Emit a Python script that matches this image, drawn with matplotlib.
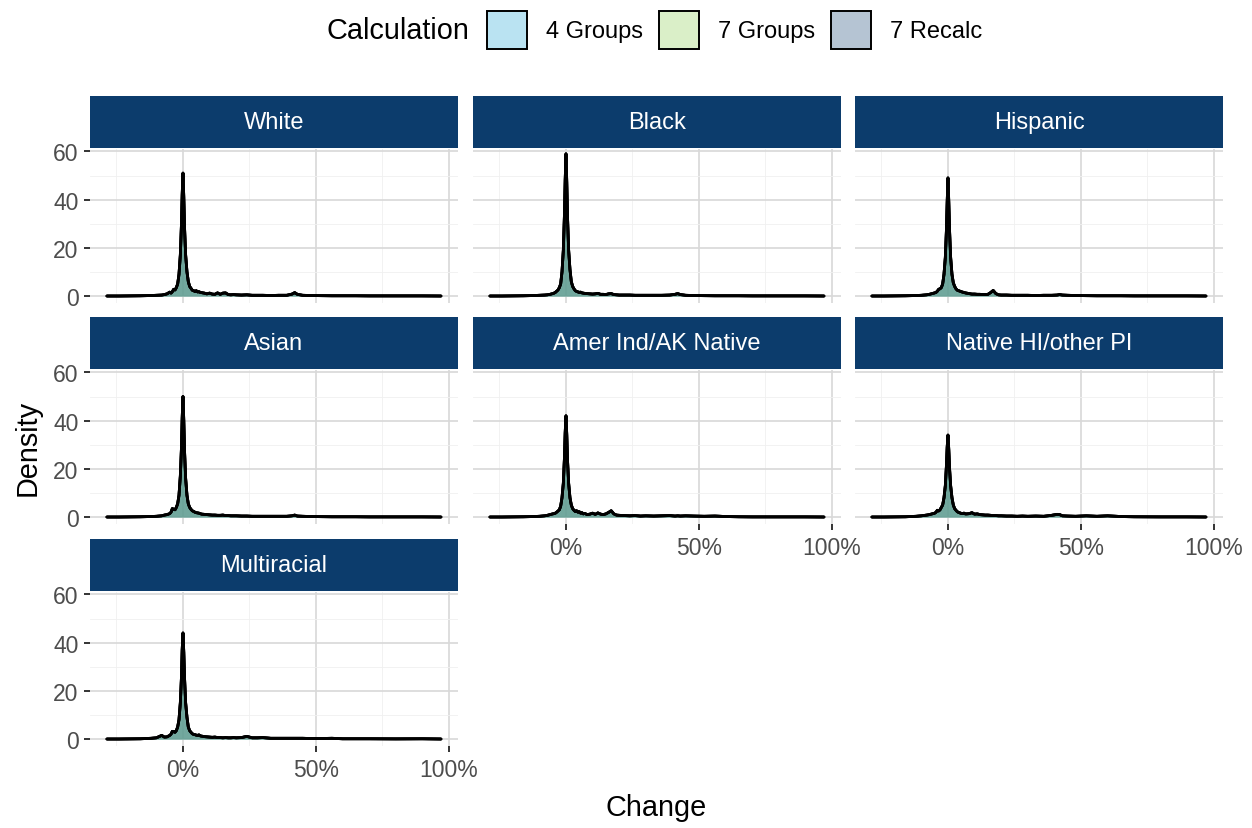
import matplotlib
matplotlib.use('Agg')
import matplotlib.pyplot as plt
from matplotlib.patches import Patch
from matplotlib.ticker import FuncFormatter, FixedLocator

plt.rcParams['font.family'] = ['Liberation Sans', 'DejaVu Sans']

# ---------------- data ----------------
calculations = ['4 Groups', '7 Groups', '7 Recalc']
legend_colors = ['#BAE3F2', '#DAEFC8', '#B5C4D3']
fill_colors = ['#46A0C8', '#78BE6E', '#5A8C96']

groups = ['White', 'Black', 'Hispanic', 'Asian', 'Amer Ind/AK Native',
          'Native HI/other PI', 'Multiracial']

change = [-0.286, -0.24, -0.20, -0.16, -0.12, -0.10, -0.08, -0.07, -0.06, -0.05,
          -0.045, -0.04, -0.035, -0.03, -0.025, -0.02, -0.015, -0.01, -0.006, -0.003,
          0.0, 0.003, 0.006, 0.01, 0.015, 0.02, 0.025, 0.03, 0.035, 0.04,
          0.045, 0.05, 0.055, 0.06, 0.065, 0.07, 0.08, 0.09, 0.10, 0.11,
          0.12, 0.13, 0.14, 0.15, 0.16, 0.17, 0.18, 0.19, 0.20, 0.22,
          0.24, 0.26, 0.28, 0.30, 0.33, 0.36, 0.39, 0.41, 0.42, 0.43,
          0.45, 0.48, 0.52, 0.56, 0.60, 0.65, 0.70, 0.80, 0.90, 0.97]

white_density = [0, 0, 0.05, 0.1, 0.2, 0.3, 0.4, 0.6, 0.9, 1.6,
                 1.2, 1.8, 2.8, 2.5, 3.5, 5, 9, 17, 29, 42,
                 51, 41, 28, 17, 10, 6, 4, 3.2, 2.4, 2.2,
                 1.9, 2.2, 1.7, 1.8, 1.5, 1.4, 1.2, 0.9, 1.2, 0.8,
                 0.7, 1.3, 0.7, 1.2, 1.3, 0.6, 0.5, 0.6, 0.5, 0.4,
                 0.5, 0.3, 0.3, 0.3, 0.2, 0.3, 0.3, 0.8, 1.4, 0.7,
                 0.3, 0.2, 0.15, 0.1, 0.1, 0.1, 0.05, 0.05, 0.05, 0]
black_density = [0, 0, 0.05, 0.1, 0.2, 0.3, 0.4, 0.5, 0.7, 1.0,
                 1.2, 1.5, 2.0, 2.5, 3.5, 5, 10, 19, 33, 48,
                 59, 47, 32, 19, 11, 6, 4, 3.0, 2.2, 1.9,
                 1.7, 1.5, 1.6, 1.3, 1.2, 1.1, 1.0, 0.9, 0.8, 0.9,
                 1.1, 0.7, 0.7, 0.6, 0.9, 1.0, 0.6, 0.5, 0.4, 0.4,
                 0.4, 0.3, 0.3, 0.3, 0.3, 0.3, 0.4, 0.7, 1.0, 0.6,
                 0.3, 0.2, 0.15, 0.1, 0.1, 0.1, 0.05, 0.05, 0.05, 0]
hispanic_density = [0, 0, 0.05, 0.1, 0.2, 0.3, 0.5, 0.7, 1.0, 1.3,
                    1.5, 2.0, 2.8, 3.0, 3.5, 5, 9, 16, 27, 39,
                    49, 39, 27, 16, 9, 5.5, 4, 3, 2.4, 2.2,
                    2.0, 1.8, 1.6, 1.5, 1.3, 1.2, 1.0, 0.8, 0.8, 0.7,
                    0.7, 0.6, 0.6, 0.7, 1.4, 2.3, 1.0, 0.5, 0.4, 0.4,
                    0.3, 0.3, 0.3, 0.3, 0.2, 0.3, 0.3, 0.4, 0.6, 0.4,
                    0.3, 0.2, 0.15, 0.1, 0.1, 0.1, 0.05, 0.05, 0.05, 0]
asian_density = [0, 0, 0.05, 0.1, 0.2, 0.3, 0.5, 0.8, 1.0, 1.4,
                 2.0, 3.5, 3.2, 3.0, 4.0, 5.5, 9, 17, 28, 41,
                 50, 40, 27, 16, 9, 5.5, 4, 3.2, 2.6, 2.3,
                 2.0, 1.8, 1.7, 1.6, 1.4, 1.2, 1.1, 1.0, 0.9, 0.8,
                 0.8, 0.7, 0.7, 0.8, 0.6, 0.6, 0.5, 0.5, 0.5, 0.4,
                 0.4, 0.3, 0.3, 0.3, 0.3, 0.3, 0.3, 0.5, 0.8, 0.4,
                 0.3, 0.2, 0.15, 0.1, 0.1, 0.1, 0.05, 0.05, 0.05, 0]
amerind_density = [0, 0, 0.05, 0.1, 0.2, 0.3, 0.5, 0.7, 1.0, 1.3,
                   1.4, 1.6, 2.0, 2.5, 3.0, 4.5, 8, 14, 24, 35,
                   42, 34, 23, 14, 8, 5, 3.5, 2.8, 2.3, 2.6,
                   2.0, 2.2, 1.6, 1.8, 1.3, 1.5, 1.0, 1.2, 1.6, 1.1,
                   1.7, 1.2, 1.0, 1.3, 1.9, 2.6, 1.3, 0.8, 0.7, 0.6,
                   0.5, 0.6, 0.4, 0.5, 0.4, 0.5, 0.6, 0.4, 0.5, 0.4,
                   0.5, 0.4, 0.3, 0.4, 0.2, 0.1, 0.05, 0.05, 0.05, 0]
nativehi_density = [0, 0, 0.05, 0.1, 0.3, 0.5, 0.8, 1.0, 1.3, 1.6,
                    2.0, 2.8, 2.5, 3.0, 4.0, 5, 8, 13, 21, 29,
                    34, 28, 20, 13, 8, 5, 3.5, 2.8, 2.2, 1.9,
                    1.7, 1.5, 1.4, 1.6, 1.3, 1.3, 1.4, 1.8, 1.2, 1.3,
                    1.0, 0.9, 0.8, 0.8, 0.7, 0.6, 0.6, 0.5, 0.5, 0.4,
                    0.4, 0.3, 0.4, 0.3, 0.4, 0.3, 0.7, 1.1, 1.0, 0.5,
                    0.4, 0.3, 0.5, 0.3, 0.5, 0.2, 0.1, 0.05, 0.05, 0]
multiracial_density = [0, 0, 0.05, 0.1, 0.3, 0.5, 1.5, 0.8, 0.9, 1.5,
                       2.0, 3.2, 3.0, 2.8, 3.5, 5, 8, 15, 25, 37,
                       44, 36, 25, 15, 9, 5, 3.5, 2.8, 2.2, 1.9,
                       1.8, 1.6, 1.5, 1.7, 1.3, 1.2, 1.0, 0.9, 0.8, 0.7,
                       0.8, 0.6, 0.6, 0.5, 0.6, 0.5, 0.5, 0.6, 0.5, 0.6,
                       1.1, 0.5, 0.5, 0.6, 0.3, 0.3, 0.3, 0.3, 0.3, 0.3,
                       0.3, 0.2, 0.2, 0.3, 0.1, 0.1, 0.1, 0.05, 0.1, 0]

density_by_group = {
    'White': white_density,
    'Black': black_density,
    'Hispanic': hispanic_density,
    'Asian': asian_density,
    'Amer Ind/AK Native': amerind_density,
    'Native HI/other PI': nativehi_density,
    'Multiracial': multiracial_density,
}

x_major = [0.0, 0.5, 1.0]
x_minor = [-0.25, 0.25, 0.75]
y_major = [0, 20, 40, 60]
y_minor = [10, 30, 50]

# ---------------- layout ----------------
W, H = 1252, 829
fig = plt.figure(figsize=(W / 100, H / 100), dpi=100)
fig.patch.set_facecolor('white')

col_lefts = [90, 473, 855]
col_width = 368
rows = [(150, 304, 97), (371, 525, 318), (593, 747, 540)]  # plot top, plot bottom, strip top

strip_color = '#0C3C6C'
tick_fs = 16.5
strip_fs = 17
title_fs = 20.8

def frac_rect(left, top, width, height):
    return [left / W, 1 - (top + height) / H, width / W, height / H]

for i, g in enumerate(groups):
    r, c = divmod(i, 3)
    top, bottom, stop = rows[r]
    left = col_lefts[c]
    ax = fig.add_axes(frac_rect(left, top, col_width, bottom - top))
    ax.set_facecolor('white')
    dens = density_by_group[g]
    for calc, fc in zip(calculations, fill_colors):
        ax.fill_between(change, dens, 0, color=fc, alpha=0.5, lw=0, zorder=2)
    for calc in calculations:
        ax.plot(change, dens, color='black', lw=2.0, zorder=3,
                solid_joinstyle='round', solid_capstyle='round')
    ax.set_xlim(-0.3496, 1.034)
    ax.set_ylim(-2.9, 61.0)
    ax.xaxis.set_major_locator(FixedLocator(x_major))
    ax.xaxis.set_minor_locator(FixedLocator(x_minor))
    ax.yaxis.set_major_locator(FixedLocator(y_major))
    ax.yaxis.set_minor_locator(FixedLocator(y_minor))
    ax.xaxis.set_major_formatter(FuncFormatter(lambda v, p: f"{v * 100:.0f}%"))
    ax.set_axisbelow(True)
    ax.grid(which='major', color='#D9D9D9', lw=1.25)
    ax.grid(which='minor', color='#F0F0F0', lw=0.6)
    for s in ax.spines.values():
        s.set_visible(False)
    ax.tick_params(which='minor', length=0)
    show_x = (r == 2) or (r == 1 and c in (1, 2))
    show_y = (c == 0)
    ax.tick_params(axis='x', which='major', length=4.3 if show_x else 0, width=1.4,
                   color='#333333', labelcolor='#4D4D4D', labelsize=tick_fs,
                   labelbottom=show_x, pad=4)
    ax.tick_params(axis='y', which='major', length=4.3 if show_y else 0, width=1.4,
                   color='#333333', labelcolor='#4D4D4D', labelsize=tick_fs,
                   labelleft=show_y, pad=4)
    # strip
    sax = fig.add_axes(frac_rect(left, stop, col_width, top - stop - 1))
    sax.set_facecolor(strip_color)
    sax.set_xticks([]); sax.set_yticks([])
    for s in sax.spines.values():
        s.set_visible(False)
    sax.text(0.5, 0.5, g, color='white', fontsize=strip_fs, ha='center', va='center',
             transform=sax.transAxes)

# axis titles
fig.text(656 / W, 1 - 808 / H, 'Change', ha='center', va='center', fontsize=title_fs)
fig.text(28 / W, 1 - 448 / H, 'Density', ha='center', va='center', fontsize=title_fs,
         rotation=90)

# legend
handles = [Patch(facecolor=lc, edgecolor='black', lw=1.4, label=calc)
           for calc, lc in zip(calculations, legend_colors)]
fig.text(398 / W, 1 - 31 / H, 'Calculation', ha='center', va='center', fontsize=title_fs)
fig.legend(handles=handles, loc='center left', bbox_to_anchor=(487 / W, 1 - 31 / H),
           ncol=3, frameon=False, fontsize=strip_fs, handlelength=1.7, handleheight=2.05,
           handletextpad=0.8, columnspacing=0.68, borderpad=0, borderaxespad=0)

fig.savefig('out.png', dpi=100, facecolor='white')
